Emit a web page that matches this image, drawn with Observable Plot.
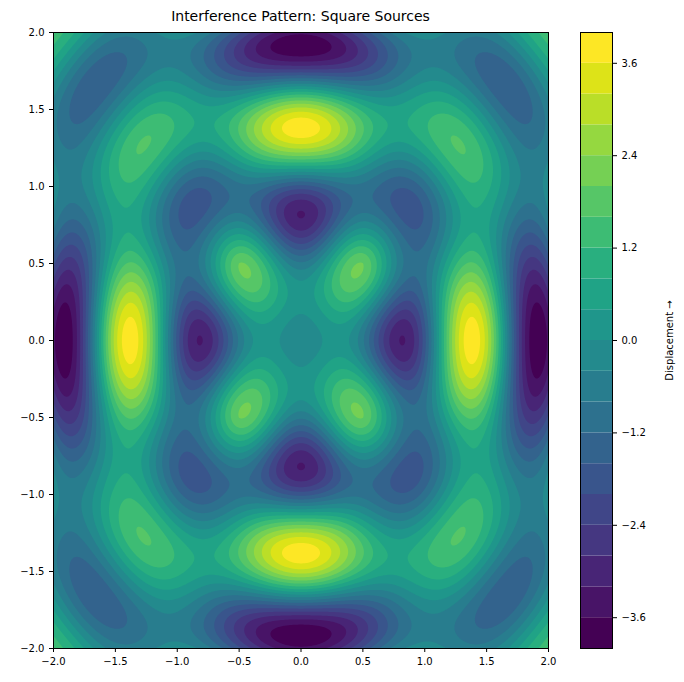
<!DOCTYPE html>
<html>
<head>
<meta charset="utf-8">
<script src="https://cdn.jsdelivr.net/npm/d3@7"></script>
<script src="https://cdn.jsdelivr.net/npm/@observablehq/plot@0.6"></script>
<style>
  body { margin: 0; background: white; font-family: "DejaVu Sans", sans-serif; }
  #wrap { position: relative; width: 684px; height: 682px; }
  #title { position: absolute; top: 8px; left: 53px; width: 495px; text-align: center; font-size: 14px; }
  #chart { position: absolute; left: 0; top: 0; }
  #bar { position: absolute; left: 560px; top: 0; }
</style>
</head>
<body>
<div id="wrap">
  <div id="chart"></div>
  <div id="bar"></div>
  <div id="title">Interference Pattern: Square Sources</div>
</div>
<script>
// values: [x, y, displacement]
const obsX = [0, 0.85, 1.4, 2, 0, 0, 0, 0.45, 1.4, 1.65, 0.85, 2, 1, 0.4, 1.3];
const obsY = [0, 0, 0, 0, 0.85, 1.4, 1.93, 0.45, 1.3, 1.65, 0.85, 2, 0, 0, 1.4];
const obsZ = [-0.8, -3.4, 4, -4, -3.4, 4, -4, 2.2, 2.0, -2.2, -2.2, 1.5, 0, 0, 2.0];

const levels = d3.range(20).map(i => +(-4 + 0.4 * i).toFixed(1));
const barTicks = [-3.6, -2.4, -1.2, 0, 1.2, 2.4, 3.6];
const axisTicks = [-2, -1.5, -1, -0.5, 0, 0.5, 1, 1.5, 2];

// four point sources on a square; pick spacing, wavenumber, phase that match the readings
function sources(s, diag) {
  return diag ? [[s, s], [-s, s], [s, -s], [-s, -s]] : [[s, 0], [-s, 0], [0, s], [0, -s]];
}
function wave(x, y, src, k, ph) {
  let z = 0;
  for (const [sx, sy] of src) z += Math.cos(k * Math.hypot(x - sx, y - sy) + ph);
  return z;
}
let best = {err: Infinity};
for (const diag of [false, true])
  for (let s = 0.2; s <= 3; s += 0.05)
    for (let k = 1; k <= 14; k += 0.1)
      for (let ph = 0; ph < 2 * Math.PI; ph += Math.PI / 12) {
        const src = sources(s, diag);
        let err = 0;
        for (let i = 0; i < obsX.length; i++) err += (wave(obsX[i], obsY[i], src, k, ph) - obsZ[i]) ** 2;
        if (err < best.err) best = {err, src, k, ph};
      }
const field = (x, y) => wave(x, y, best.src, best.k, best.ph);

const fmt = d => d.toFixed(1).replace("-", "\u2212");

const chart = Plot.plot({
  width: 560, height: 682,
  marginLeft: 53, marginRight: 12, marginTop: 32, marginBottom: 34,
  style: {fontSize: "10px", fontFamily: "DejaVu Sans"},
  x: {domain: [-2, 2], ticks: axisTicks, tickFormat: fmt, label: null, tickSize: 4},
  y: {domain: [-2, 2], ticks: axisTicks, tickFormat: fmt, label: null, tickSize: 4},
  color: {type: "linear", scheme: "viridis", domain: [-4, 3.6]},
  marks: [
    Plot.rect([0], {x1: -2, x2: 2, y1: -2, y2: 2, fill: d3.interpolateViridis(0)}),
    Plot.contour({fill: field, x1: -2, x2: 2, y1: -2, y2: 2, thresholds: levels, pixelSize: 1, stroke: "none"}),
    Plot.frame({stroke: "black"})
  ]
});
d3.select("#chart").append(() => chart);

const bar = Plot.plot({
  width: 124, height: 682,
  marginLeft: 20, marginRight: 72, marginTop: 32, marginBottom: 34,
  style: {fontSize: "10px", fontFamily: "DejaVu Sans"},
  x: {axis: null, domain: [0, 1]},
  y: {domain: [-4, 4], ticks: barTicks, tickFormat: fmt, axis: "right", label: "Displacement", labelAnchor: "center", labelOffset: 60, tickSize: 4},
  color: {type: "linear", scheme: "viridis", domain: [-4, 3.6]},
  marks: [
    Plot.rect(levels, {x1: 0, x2: 1, y1: d => d, y2: d => d + 0.4, fill: d => d}),
    Plot.frame({stroke: "black"})
  ]
});
d3.select("#bar").append(() => bar);
</script>
</body>
</html>
